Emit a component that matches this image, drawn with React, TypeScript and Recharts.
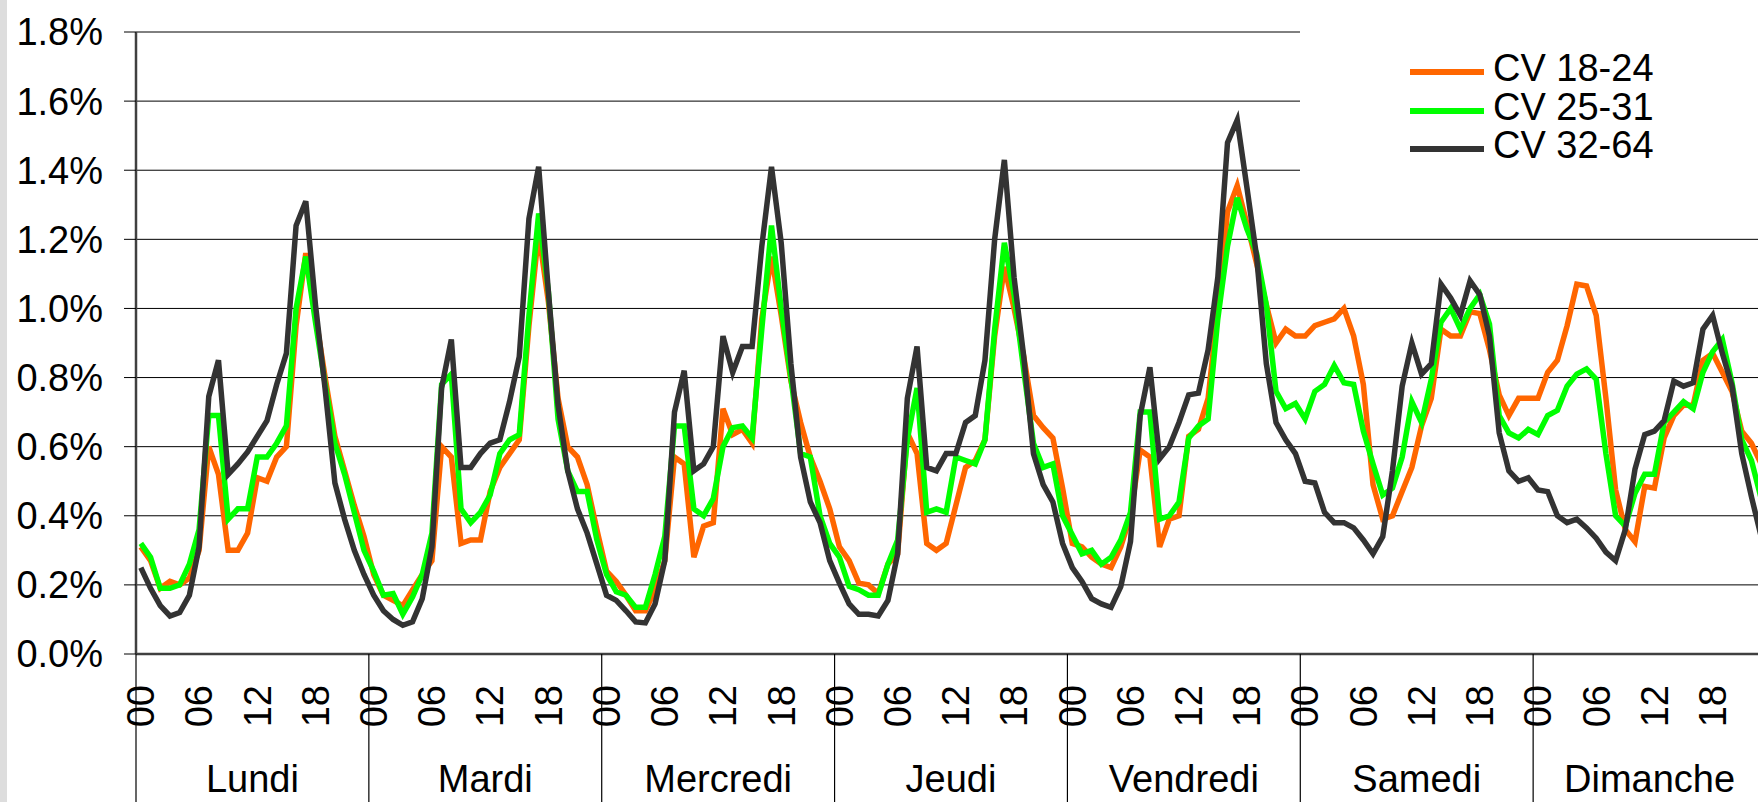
import React from "react";
import { LineChart, Line, XAxis, YAxis, CartesianGrid, Legend } from "recharts";

const days = ["Lundi", "Mardi", "Mercredi", "Jeudi", "Vendredi", "Samedi", "Dimanche"];
const hourTicks = [0, 6, 12, 18];
const yTicks = [0, 0.2, 0.4, 0.6, 0.8, 1.0, 1.2, 1.4, 1.6, 1.8];

// part horaire du trafic (%), lundi 00h -> dimanche 23h
const cv1824 = [
  0.31, 0.27, 0.19, 0.21, 0.2, 0.22, 0.3, 0.6, 0.52, 0.3, 0.3, 0.35, 0.51, 0.5, 0.57, 0.6, 0.95, 1.16, 0.98, 0.8, 0.63, 0.53, 0.43, 0.34,
  0.23, 0.17, 0.155, 0.14, 0.185, 0.23, 0.27, 0.6, 0.57, 0.32, 0.33, 0.33, 0.47, 0.54, 0.58, 0.62, 0.95, 1.22, 1.02, 0.74, 0.6, 0.57, 0.49, 0.36,
  0.24, 0.21, 0.17, 0.125, 0.125, 0.185, 0.27, 0.57, 0.55, 0.28, 0.37, 0.38, 0.71, 0.635, 0.65, 0.61, 0.97, 1.15, 0.98, 0.79, 0.67, 0.57, 0.5, 0.42,
  0.31, 0.27, 0.205, 0.2, 0.175, 0.26, 0.29, 0.64, 0.58, 0.32, 0.3, 0.32, 0.43, 0.54, 0.56, 0.62, 0.92, 1.12, 1.0, 0.86, 0.69, 0.655, 0.625, 0.48,
  0.32, 0.31, 0.28, 0.26, 0.25, 0.31, 0.4, 0.59, 0.57, 0.31, 0.39, 0.4, 0.63, 0.65, 0.74, 1.0, 1.28, 1.355, 1.245, 1.13, 1.01, 0.9, 0.94, 0.92,
  0.92, 0.95, 0.96, 0.97, 1.0, 0.92, 0.78, 0.49, 0.39, 0.4, 0.47, 0.54, 0.66, 0.74, 0.94, 0.92, 0.92, 0.99, 0.985, 0.88, 0.75, 0.69, 0.74, 0.74,
  0.74, 0.815, 0.85, 0.95, 1.07, 1.065, 0.98, 0.74, 0.475, 0.36, 0.325, 0.485, 0.48, 0.625, 0.69, 0.72, 0.72, 0.85, 0.87, 0.815, 0.76, 0.645, 0.61, 0.55,
];

const cv2531 = [
  0.32, 0.28, 0.19, 0.19, 0.2, 0.26, 0.36, 0.69, 0.69, 0.39, 0.42, 0.42, 0.57, 0.57, 0.61, 0.66, 1.0, 1.15, 0.96, 0.78, 0.61, 0.52, 0.41, 0.3,
  0.24, 0.17, 0.175, 0.115, 0.165, 0.23, 0.35, 0.78, 0.81, 0.42, 0.38, 0.41, 0.46, 0.58, 0.62, 0.635, 0.98, 1.275, 1.05, 0.68, 0.53, 0.47, 0.47, 0.33,
  0.23, 0.18, 0.17, 0.135, 0.135, 0.23, 0.34, 0.66, 0.66, 0.42, 0.4, 0.45, 0.6, 0.655, 0.66, 0.625, 0.94, 1.24, 1.0, 0.8, 0.58, 0.57, 0.4, 0.32,
  0.28, 0.196, 0.186, 0.17, 0.17, 0.26, 0.33, 0.62, 0.77, 0.41, 0.42, 0.41, 0.57, 0.56, 0.55, 0.62, 0.94, 1.19, 1.04, 0.82, 0.61, 0.54, 0.55, 0.4,
  0.345, 0.29, 0.3, 0.26, 0.28, 0.33, 0.41, 0.7, 0.7, 0.39, 0.4, 0.44, 0.625, 0.66, 0.68, 0.97, 1.18, 1.32, 1.23, 1.16, 1.01, 0.76, 0.71, 0.725,
  0.68, 0.76, 0.78, 0.835, 0.785, 0.78, 0.645, 0.55, 0.46, 0.48, 0.57, 0.73, 0.67, 0.795, 0.96, 1.0, 0.94, 1.0, 1.04, 0.955, 0.69, 0.64, 0.625, 0.65,
  0.635, 0.69, 0.705, 0.775, 0.81, 0.825, 0.795, 0.58, 0.4, 0.37, 0.465, 0.52, 0.52, 0.67, 0.7, 0.73, 0.71, 0.815, 0.875, 0.91, 0.785, 0.62, 0.56, 0.45,
];

const cv3264 = [
  0.25, 0.19, 0.14, 0.11, 0.12, 0.17, 0.31, 0.745, 0.85, 0.52, 0.55, 0.585, 0.63, 0.675, 0.78, 0.87, 1.24, 1.31, 1.01, 0.765, 0.495, 0.39, 0.3, 0.23,
  0.17, 0.125, 0.1, 0.083, 0.093, 0.16, 0.31, 0.77, 0.91, 0.54, 0.54, 0.58, 0.61, 0.62, 0.73, 0.86, 1.26, 1.41, 1.05, 0.72, 0.53, 0.42, 0.35, 0.26,
  0.17, 0.155, 0.125, 0.093, 0.09, 0.145, 0.27, 0.7, 0.82, 0.53, 0.55, 0.6, 0.92, 0.815, 0.89, 0.89, 1.18, 1.41, 1.19, 0.84, 0.57, 0.44, 0.38, 0.27,
  0.205, 0.145, 0.115, 0.115, 0.11, 0.155, 0.29, 0.74, 0.89, 0.54, 0.53, 0.58, 0.58, 0.67, 0.69, 0.85, 1.2, 1.43, 1.09, 0.86, 0.58, 0.49, 0.44, 0.32,
  0.25, 0.21, 0.16, 0.145, 0.135, 0.195, 0.325, 0.69, 0.83, 0.565, 0.6, 0.67, 0.75, 0.755, 0.88, 1.09, 1.48, 1.545, 1.35, 1.15, 0.84, 0.67, 0.62, 0.58,
  0.5, 0.495, 0.41, 0.38, 0.38, 0.365, 0.33, 0.29, 0.34, 0.53, 0.775, 0.9, 0.81, 0.84, 1.07, 1.03, 0.98, 1.08, 1.04, 0.92, 0.64, 0.53, 0.5, 0.51,
  0.475, 0.47, 0.4, 0.38, 0.39, 0.365, 0.335, 0.295, 0.27, 0.36, 0.535, 0.635, 0.645, 0.675, 0.79, 0.775, 0.785, 0.94, 0.98, 0.87, 0.775, 0.58, 0.455, 0.34,
];

const series = [
  { key: "cv1824", name: "CV 18-24", color: "#ff6600" },
  { key: "cv2531", name: "CV 25-31", color: "#00ff00" },
  { key: "cv3264", name: "CV 32-64", color: "#333333" },
];

// one slot per hour, points sit in the middle of their hour
const data = cv1824.map((_, i) => ({
  slot: i + 0.5,
  cv1824: cv1824[i],
  cv2531: cv2531[i],
  cv3264: cv3264[i],
}));

// day boundaries, day centres and hour labels all go through the same axis
const xTicks = days.flatMap((_, d) => [d * 24, d * 24 + 12, ...hourTicks.map((h) => d * 24 + h + 0.5)]);

const FONT = 38;

function DayHourTick(props: any) {
  const { x, y, payload } = props;
  const v = payload.value;
  const pos = v % 24;
  if (pos === 0) {
    return <line x1={x} y1={y} x2={x} y2={y + 148} stroke="#000" strokeWidth={1.2} />;
  }
  if (pos === 12) {
    return (
      <text x={x} y={y + 138} textAnchor="middle" fontSize={FONT} fill="#000">
        {days[(v - 12) / 24]}
      </text>
    );
  }
  const h = Math.floor(pos);
  const ty = y + 31;
  return (
    <text x={x} y={ty} dy="0.35em" textAnchor="end" fontSize={FONT} fill="#000" transform={`rotate(-90 ${x} ${ty})`}>
      {String(h).padStart(2, "0")}
    </text>
  );
}

function LegendBox() {
  return (
    <div style={{ background: "#fff", width: 458, height: 205, paddingTop: 53, boxSizing: "border-box" }}>
      {series.map((s) => (
        <div key={s.key} style={{ display: "flex", alignItems: "center", height: 38.5, marginLeft: 110 }}>
          <span style={{ display: "inline-block", width: 74, height: 6, background: s.color, marginRight: 9 }} />
          <span style={{ fontSize: FONT, lineHeight: "38px", position: "relative", top: -4, color: "#000", whiteSpace: "pre" }}>
            {s.name}
          </span>
        </div>
      ))}
    </div>
  );
}

export default function App() {
  return (
    <div
      style={{
        position: "absolute",
        left: 0,
        top: 0,
        width: 1758,
        height: 802,
        overflow: "hidden",
        background: "#fff",
        fontFamily: '"Liberation Sans", Arial, sans-serif',
      }}
    >
      <div style={{ position: "absolute", left: 0, top: 0, width: 7, height: 802, background: "#dddddd" }} />
      <LineChart width={1766} height={802} data={data} margin={{ top: 32, right: 0, bottom: 0, left: 0 }}>
        <CartesianGrid vertical={false} stroke="#000" strokeWidth={1} />
        <XAxis
          type="number"
          dataKey="slot"
          domain={[0, 168]}
          ticks={xTicks}
          interval={0}
          tick={(p: any) => <DayHourTick {...p} />}
          tickLine={false}
          tickSize={0}
          tickMargin={0}
          height={148}
          axisLine={{ stroke: "#404040", strokeWidth: 2.5 }}
        />
        <YAxis
          type="number"
          domain={[0, 1.8]}
          ticks={yTicks}
          interval={0}
          width={136}
          tickSize={12}
          tickMargin={21}
          tick={{ fontSize: FONT, fill: "#000" }}
          tickLine={{ stroke: "#000" }}
          tickFormatter={(v: number) => `${v.toFixed(1)}%`}
          axisLine={{ stroke: "#404040", strokeWidth: 2.5 }}
        />
        <Legend
          layout="vertical"
          align="center"
          verticalAlign="middle"
          content={() => <LegendBox />}
          wrapperStyle={{ left: 1300, top: 0, width: 458, height: 205 }}
        />
        {series.map((s) => (
          <Line
            key={s.key}
            type="linear"
            dataKey={s.key}
            name={s.name}
            stroke={s.color}
            strokeWidth={5.5}
            dot={false}
            activeDot={false}
            isAnimationActive={false}
          />
        ))}
      </LineChart>
    </div>
  );
}
